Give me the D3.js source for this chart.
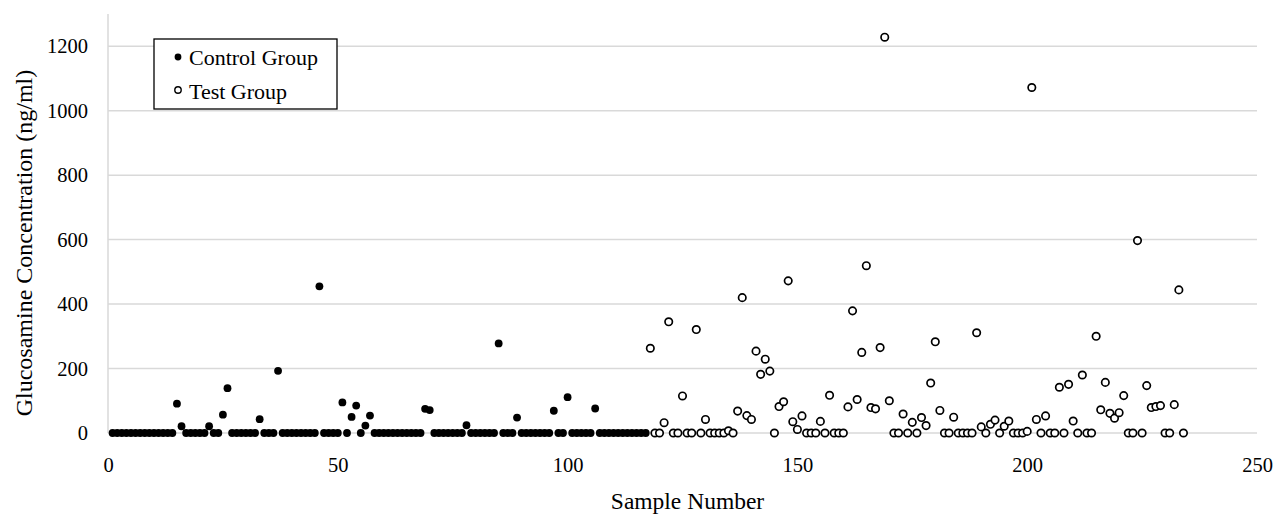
<!DOCTYPE html>
<html>
<head>
<meta charset="utf-8">
<script src="https://cdn.jsdelivr.net/npm/d3@7"></script>
<style>
  body { margin: 0; background: #fff; }
  svg text { font-family: "Liberation Serif", "Times New Roman", serif; fill: #000; }
</style>
</head>
<body>
<div id="chart"></div>
<script>
// control group: samples 1..117, test group: samples 118..234
const controlStart = 1;
const controlValues = [
  0,0,0,0,0,0,0,0,0,0,0,0,0,0, 91, 21, 0,0,0,0,0, 21, 0,0, 57, 139,
  0,0,0,0,0,0, 43, 0,0,0, 193, 0,0,0,0,0,0,0,0, 455, 0,0,0,0, 95, 0, 50, 85, 0, 23, 54,
  0,0,0,0,0,0,0,0,0,0,0, 75, 71, 0,0,0,0,0,0,0, 24, 0,0,0,0,0,0, 278, 0,0,0, 48,
  0,0,0,0,0,0,0, 69, 0,0, 111, 0,0,0,0,0, 76, 0,0,0,0,0,0,0,0,0,0,0
];
const testStart = 118;
const testValues = [
  263, 0, 0, 32, 345, 0, 0, 115, 0, 0, 321, 0, 42, 0,0,0,0, 7, 0, 68, 420, 54, 42,
  254, 182, 229, 192, 0, 82, 97, 472, 35, 11, 53, 0,0,0, 36, 0, 117, 0,0,0, 81, 379,
  104, 250, 519, 79, 75, 265, 1228, 100, 0, 0, 59, 0, 33, 0, 48, 23, 155, 283, 70, 0, 0,
  49, 0,0,0,0, 311, 19, 0, 27, 40, 0, 21, 37, 0,0,0, 5, 1072, 42, 0, 53, 0, 0, 142, 0,
  151, 37, 0, 180, 0, 0, 300, 72, 157, 61, 46, 63, 116, 0, 0, 597, 0, 147, 79, 82, 85,
  0, 0, 88, 444, 0
];
const xTicks = [0, 50, 100, 150, 200, 250];
const yTicks = [0, 200, 400, 600, 800, 1000, 1200];
const seriesNames = ['Control Group', 'Test Group'];

const control = controlValues.map((v, i) => ({ sample: controlStart + i, value: v }));
const test = testValues.map((v, i) => ({ sample: testStart + i, value: v }));

const width = 1277, height = 516;
const margin = { top: 14, right: 20, bottom: 83, left: 108 };
const serif = '"Liberation Serif", "Times New Roman", serif';

const svg = d3.select('#chart').append('svg')
  .attr('width', width)
  .attr('height', height);

const xScale = d3.scaleLinear().domain([0, 250]).range([margin.left, width - margin.right]);
const yScale = d3.scaleLinear().domain([0, 1300]).range([height - margin.bottom, margin.top]);

// gridlines
svg.append('g')
  .selectAll('line')
  .data(yTicks)
  .join('line')
  .attr('x1', margin.left)
  .attr('x2', width - margin.right)
  .attr('y1', d => yScale(d))
  .attr('y2', d => yScale(d))
  .attr('stroke', '#d9d9d9')
  .attr('stroke-width', 1.5);

// y axis line
svg.append('line')
  .attr('x1', margin.left).attr('x2', margin.left)
  .attr('y1', margin.top).attr('y2', yScale(0))
  .attr('stroke', '#d9d9d9')
  .attr('stroke-width', 1.5);

const tickFont = g => g.attr('font-family', serif).selectAll('text')
  .style('font-size', '20.5px')
  .style('font-family', serif);

const yAxis = d3.axisLeft(yScale).tickValues(yTicks).tickFormat(d3.format('d')).tickSize(0).tickPadding(20);
const yg = svg.append('g').attr('transform', `translate(${margin.left},0)`).call(yAxis);
yg.select('.domain').remove();
yg.call(tickFont);

const xAxis = d3.axisBottom(xScale).tickValues(xTicks).tickFormat(d3.format('d')).tickSize(0).tickPadding(24);
const xg = svg.append('g').attr('transform', `translate(0,${yScale(0)})`).call(xAxis);
xg.select('.domain').remove();
xg.call(tickFont);

// axis titles
svg.append('text')
  .attr('x', (margin.left + width - margin.right) / 2 + 5)
  .attr('y', 509)
  .attr('text-anchor', 'middle')
  .style('font-size', '23.5px')
  .text('Sample Number');

svg.append('text')
  .attr('transform', `translate(32,243) rotate(-90)`)
  .attr('text-anchor', 'middle')
  .style('font-size', '24px')
  .text('Glucosamine Concentration (ng/ml)');

// points
svg.append('g')
  .selectAll('circle')
  .data(control)
  .join('circle')
  .attr('cx', d => xScale(d.sample))
  .attr('cy', d => yScale(d.value))
  .attr('r', 3.9)
  .attr('fill', '#000');

svg.append('g')
  .selectAll('circle')
  .data(test)
  .join('circle')
  .attr('cx', d => xScale(d.sample))
  .attr('cy', d => yScale(d.value))
  .attr('r', 3.7)
  .attr('fill', '#fff')
  .attr('stroke', '#000')
  .attr('stroke-width', 1.7);

// legend
const legend = svg.append('g');
legend.append('rect')
  .attr('x', 154).attr('y', 39)
  .attr('width', 183).attr('height', 70)
  .attr('fill', '#fff')
  .attr('stroke', '#000')
  .attr('stroke-width', 1.3);

legend.append('circle').attr('cx', 178).attr('cy', 57).attr('r', 3.4).attr('fill', '#000');
legend.append('circle').attr('cx', 178).attr('cy', 90).attr('r', 3.2)
  .attr('fill', '#fff').attr('stroke', '#000').attr('stroke-width', 1.4);

legend.selectAll('text.lbl')
  .data(seriesNames)
  .join('text')
  .attr('class', 'lbl')
  .attr('x', 189)
  .attr('y', (d, i) => 65 + i * 34)
  .style('font-size', '22px')
  .text(d => d);
</script>
</body>
</html>
